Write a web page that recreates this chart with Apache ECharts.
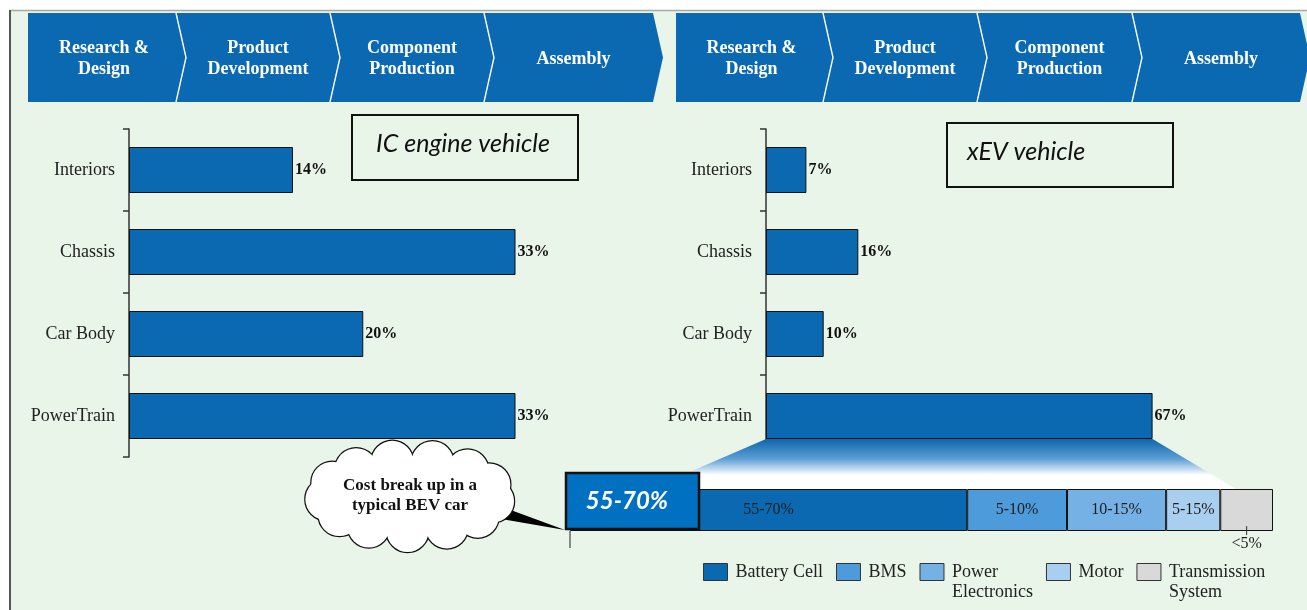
<!DOCTYPE html>
<html>
<head>
<meta charset="utf-8">
<script src="https://cdn.jsdelivr.net/npm/echarts@6/dist/echarts.min.js"></script>
<style>
  html, body { margin: 0; padding: 0; background: #ffffff; }
  #chart { width: 1307px; height: 610px; }
</style>
</head>
<body>
<div id="chart"></div>
<script>
// ---- data ----
const categories = ['Interiors', 'Chassis', 'Car Body', 'PowerTrain'];
const iceShare = [14, 33, 20, 33];          // IC engine vehicle cost share, %
const xevShare = [7, 16, 10, 67];           // xEV vehicle cost share, %
const stageNames = ['Research &\nDesign', 'Product\nDevelopment', 'Component\nProduction', 'Assembly'];
const bevParts = ['Battery Cell', 'BMS', 'Power\nElectronics', 'Motor', 'Transmission\nSystem'];
const bevShare = [56.5, 14.2, 14.1, 7.7, 7.5];   // drawn width of each powertrain part, %
const bevRange = ['55-70%', '5-10%', '10-15%', '5-15%', '<5%'];
const panelTitles = ['IC engine vehicle', 'xEV vehicle'];
const calloutText = 'Cost break up in a\ntypical BEV car';

// ---- styling ----
const BLUE = '#0a69b0';
const partColors = ['#0a69b0', '#4d9bdb', '#76b1e5', '#a9cff0', '#d9d9d9'];
const SERIF = 'Liberation Serif';

const chart = echarts.init(document.getElementById('chart'), null, { renderer: 'canvas' });

function catAxis(gridIndex) {
  return {
    type: 'category', gridIndex, data: categories, inverse: true,
    axisLine: { show: true, lineStyle: { color: '#333', width: 1.5 } },
    axisTick: { show: true, length: 6, lineStyle: { color: '#333', width: 1.5 } },
    axisLabel: { fontFamily: SERIF, fontSize: 18, color: '#222', margin: 14 },
    splitLine: { show: false }
  };
}

function shareSeries(name, idx, values) {
  return {
    name, type: 'bar', xAxisIndex: idx, yAxisIndex: idx, data: values, barWidth: 46,
    itemStyle: { color: BLUE, borderColor: '#111', borderWidth: 1 },
    label: {
      show: true, position: 'right', distance: 2, formatter: '{c}%',
      fontFamily: SERIF, fontWeight: 'bold', fontSize: 16, color: '#111'
    },
    z: 3
  };
}

const partSeries = bevParts.map((name, i) => ({
  name, type: 'bar', stack: 'bev', xAxisIndex: 2, yAxisIndex: 2,
  data: [bevShare[i]], barWidth: 42,
  itemStyle: { color: partColors[i], borderColor: '#111', borderWidth: 1 },
  label: {
    show: true,
    position: i === bevParts.length - 1 ? 'bottom' : 'inside',
    distance: 5,
    formatter: () => bevRange[i],
    fontFamily: SERIF, fontSize: 16, color: '#1c1c1c'
  },
  z: 3
}));

chart.setOption({
  animation: false,
  backgroundColor: '#e8f5e8',
  grid: [
    { left: 129, top: 129, width: 468.5, height: 328 },
    { left: 766, top: 129, width: 461.6, height: 328 },
    { left: 570, top: 489, width: 703, height: 42 }
  ],
  xAxis: [
    { type: 'value', gridIndex: 0, min: 0, max: 40, show: false },
    { type: 'value', gridIndex: 1, min: 0, max: 80, show: false },
    { type: 'value', gridIndex: 2, min: 0, max: 100, show: false }
  ],
  yAxis: [
    catAxis(0),
    catAxis(1),
    { type: 'category', gridIndex: 2, data: ['BEV'], show: false }
  ],
  legend: {
    left: 703, top: 542, padding: 0, orient: 'horizontal',
    itemWidth: 24, itemHeight: 17, itemGap: 13, icon: 'rect',
    itemStyle: { borderColor: '#333', borderWidth: 1 },
    textStyle: { fontFamily: SERIF, fontSize: 18, color: '#222', lineHeight: 20, padding: [0, 0, 0, 3] },
    // two-line names get a blank lead line so their first line sits level with the swatch
    formatter: name => (name.indexOf('\n') >= 0 ? ' \n' + name : name),
    data: bevParts
  },
  series: [shareSeries('IC engine vehicle', 0, iceShare), shareSeries('xEV vehicle', 1, xevShare)].concat(partSeries)
});

// ---- decorations placed from the chart's own coordinate system ----
const g = [];

// page frame: white strip on top, rule line, left border
g.push({ type: 'rect', shape: { x: 0, y: 0, width: 1307, height: 10 }, style: { fill: '#ffffff' }, z: 0 });
g.push({ type: 'rect', shape: { x: 0, y: 0, width: 9, height: 610 }, style: { fill: '#ffffff' }, z: 0 });
g.push({ type: 'line', shape: { x1: 9, y1: 10.5, x2: 1307, y2: 10.5 }, style: { stroke: '#a8a8a8', lineWidth: 1.5 }, z: 1 });
g.push({ type: 'line', shape: { x1: 10, y1: 10, x2: 10, y2: 610 }, style: { stroke: '#555', lineWidth: 2 }, z: 1 });

// value-chain chevron bands
function chevronBand(x0, seps, xEnd) {
  const top = 13, bot = 102, mid = 57.5, tip = 10;
  g.push({
    type: 'polygon',
    shape: { points: [[x0, top], [xEnd, top], [xEnd + tip, mid], [xEnd, bot], [x0, bot]] },
    style: { fill: BLUE }, z: 1
  });
  seps.forEach(s => g.push({
    type: 'polyline',
    shape: { points: [[s, top], [s + tip, mid], [s, bot]] },
    style: { stroke: '#ffffff', lineWidth: 1.4, fill: null }, z: 2
  }));
  const edges = [x0].concat(seps).concat([xEnd]);
  stageNames.forEach((name, i) => {
    const cx = (edges[i] + edges[i + 1]) / 2 + (i === 0 ? 2 : 5);
    g.push({
      type: 'text', x: cx, y: mid + 1.5,
      style: {
        text: name, fill: '#ffffff', font: 'bold 18px "' + SERIF + '"',
        align: 'center', verticalAlign: 'middle', lineHeight: 21
      }, z: 3
    });
  });
}
chevronBand(28, [176, 330, 484], 653);
chevronBand(676, [823, 977, 1132], 1300);

// panel title boxes
g.push({ type: 'rect', shape: { x: 352, y: 115, width: 226, height: 65 }, style: { fill: null, stroke: '#111', lineWidth: 2 }, z: 3 });
g.push({ type: 'text', x: 463, y: 144, style: { text: panelTitles[0], font: 'italic 25px Lato', fill: '#111', align: 'center', verticalAlign: 'middle' }, z: 3 });
g.push({ type: 'rect', shape: { x: 947, y: 123, width: 226, height: 64 }, style: { fill: null, stroke: '#111', lineWidth: 2 }, z: 3 });
g.push({ type: 'text', x: 967, y: 152, style: { text: panelTitles[1], font: 'italic 25px Lato', fill: '#111', align: 'left', verticalAlign: 'middle' }, z: 3 });

// zoom wedge from the xEV powertrain bar down to the BEV breakdown bar
const pt = categories.length - 1;
const barHalf = 23;
const ptStart = chart.convertToPixel({ seriesIndex: 1 }, [0, pt]);
const ptEnd = chart.convertToPixel({ seriesIndex: 1 }, [xevShare[pt], pt]);
const stackStart = chart.convertToPixel({ seriesIndex: 2 }, [0, 0]);
const stackEnd = chart.convertToPixel({ seriesIndex: 6 }, [100, 0]);
const wedgeTop = ptStart[1] + barHalf;
const wedgeBot = stackStart[1] - 21;
g.push({
  type: 'polygon',
  shape: { points: [[ptStart[0], wedgeTop], [ptEnd[0], wedgeTop], [stackEnd[0] - 37, wedgeBot], [stackStart[0] + 80, wedgeBot]] },
  style: {
    fill: new echarts.graphic.LinearGradient(0, 0, 0, 1, [
      { offset: 0, color: '#0d66ac' },
      { offset: 0.4, color: '#5d9fd5' },
      { offset: 0.72, color: '#ffffff' },
      { offset: 1, color: '#ffffff' }
    ])
  },
  z: 1
});

// small stub under the start of the breakdown bar
g.push({ type: 'line', shape: { x1: stackStart[0], y1: stackStart[1] + 21, x2: stackStart[0], y2: stackStart[1] + 38 }, style: { stroke: '#222', lineWidth: 1 }, z: 4 });

// leader tick for the transmission share label
const trLeft = chart.convertToPixel({ seriesIndex: 6 }, [100 - bevShare[4], 0]);
const trCx = (trLeft[0] + stackEnd[0]) / 2;
g.push({ type: 'line', shape: { x1: trCx, y1: stackStart[1] + 16, x2: trCx, y2: stackStart[1] + 25 }, style: { stroke: '#333', lineWidth: 1 }, z: 5 });

// highlighted battery share box
g.push({ type: 'rect', shape: { x: 566, y: 473, width: 133, height: 56 }, style: { fill: '#0070c0', stroke: '#111', lineWidth: 2.5 }, z: 8 });
g.push({ type: 'text', x: 627, y: 501, style: { text: bevRange[0], font: 'italic bold 24px Lato', fill: '#ffffff', align: 'center', verticalAlign: 'middle' }, z: 9 });

// callout tail
g.push({ type: 'polygon', shape: { points: [[478, 498], [484, 516], [565, 530]] }, style: { fill: '#000000' }, z: 9 });

// thought-cloud callout
const cloudCx = 410, cloudCy = 496, nBumps = 13;
const bumps = [];
for (let i = 0; i < nBumps; i++) {
  const a = (i / nBumps) * Math.PI * 2 + 0.15;
  bumps.push([cloudCx + 84 * Math.cos(a), cloudCy + 35 * Math.sin(a)]);
}
bumps.forEach(c => g.push({ type: 'circle', shape: { cx: c[0], cy: c[1], r: 21 }, style: { fill: '#ffffff', stroke: '#111', lineWidth: 2.4 }, z: 10 }));
bumps.forEach(c => g.push({ type: 'circle', shape: { cx: c[0], cy: c[1], r: 21 }, style: { fill: '#ffffff' }, z: 11 }));
g.push({ type: 'ellipse', shape: { cx: cloudCx, cy: cloudCy, rx: 88, ry: 40 }, style: { fill: '#ffffff' }, z: 11 });
g.push({ type: 'text', x: cloudCx, y: 496, style: { text: calloutText, font: 'bold 17px "' + SERIF + '"', fill: '#111', align: 'center', verticalAlign: 'middle', lineHeight: 20 }, z: 12 });

chart.setOption({ graphic: { elements: g } });
</script>
</body>
</html>
